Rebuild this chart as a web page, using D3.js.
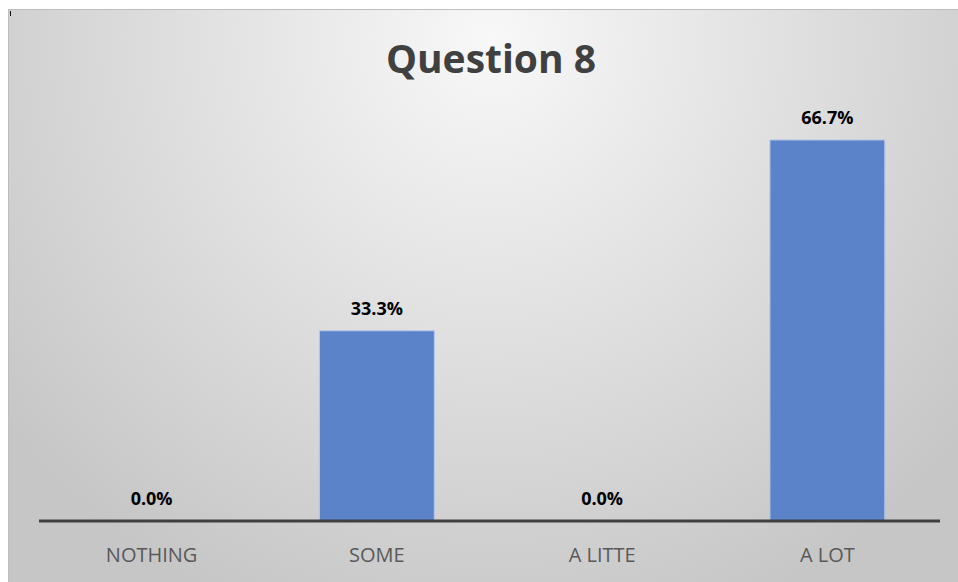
<!DOCTYPE html>
<html>
<head>
<meta charset="utf-8">
<script src="https://cdn.jsdelivr.net/npm/d3@7"></script>
<style>
  html, body { margin: 0; padding: 0; background: #ffffff; }
  svg { display: block; }
</style>
</head>
<body>
<svg id="chart" width="958" height="582"></svg>
<script>
// Survey answers for question 8
const categories = ["NOTHING", "SOME", "A LITTE", "A LOT"];
const shares = [0.0, 0.333, 0.0, 0.667];
const valueLabels = ["0.0%", "33.3%", "0.0%", "66.7%"];
const chartTitle = "Question 8";

const W = 958, H = 582;
const svg = d3.select("#chart");
const font = "'Open Sans', Lato, sans-serif";

// Radial backdrop of the chart area
const defs = svg.append("defs");
const grad = defs.append("radialGradient")
  .attr("id", "bg")
  .attr("gradientUnits", "userSpaceOnUse")
  .attr("cx", 490).attr("cy", 40).attr("r", 620);
grad.append("stop").attr("offset", "0%").attr("stop-color", "#f8f8f8");
grad.append("stop").attr("offset", "100%").attr("stop-color", "#c6c6c6");

svg.append("rect")
  .attr("x", 8).attr("y", 9)
  .attr("width", W - 8).attr("height", H - 9)
  .attr("fill", "url(#bg)");
svg.append("line")
  .attr("x1", 8).attr("x2", W).attr("y1", 9.5).attr("y2", 9.5)
  .attr("stroke", "#bdbdbd");
svg.append("line")
  .attr("x1", 8.5).attr("x2", 8.5).attr("y1", 9).attr("y2", H)
  .attr("stroke", "#bdbdbd");
svg.append("line")
  .attr("x1", 10.5).attr("x2", 10.5).attr("y1", 11).attr("y2", 16)
  .attr("stroke", "#111");

const plot = { left: 39, right: 940, top: 64, bottom: 521 };

const x = d3.scaleBand()
  .domain(categories)
  .range([plot.left, plot.right])
  .paddingInner(0.49)
  .paddingOuter(0.245);

const y = d3.scaleLinear()
  .domain([0, 0.8])
  .range([plot.bottom, plot.top]);

const data = categories.map((c, i) => ({ cat: c, v: shares[i], label: valueLabels[i] }));

// Bars
svg.append("g").selectAll("rect")
  .data(data)
  .join("rect")
  .attr("x", d => x(d.cat))
  .attr("y", d => y(d.v))
  .attr("width", x.bandwidth())
  .attr("height", d => y(0) - y(d.v))
  .attr("fill", "#5b83c9")
  .attr("stroke", "#b4c7e9")
  .attr("stroke-width", 1);

// Category axis
const xAxis = svg.append("g")
  .attr("transform", `translate(0,${plot.bottom})`)
  .call(d3.axisBottom(x).tickSize(0).tickPadding(0));
xAxis.select(".domain")
  .attr("d", `M${plot.left},0H${plot.right}`)
  .attr("stroke", "#404040")
  .attr("stroke-width", 3);
xAxis.selectAll(".tick text")
  .attr("y", 41)
  .attr("dy", 0)
  .attr("fill", "#595959")
  .style("font-family", font)
  .style("font-size", "20px");

// Value labels
svg.append("g").selectAll("text")
  .data(data)
  .join("text")
  .attr("x", d => x(d.cat) + x.bandwidth() / 2)
  .attr("y", d => y(d.v) - 16)
  .attr("text-anchor", "middle")
  .attr("fill", "#000")
  .style("font-family", font)
  .style("font-weight", "bold")
  .style("font-size", "18px")
  .text(d => d.label);

// Title
svg.append("text")
  .attr("x", 491)
  .attr("y", 73)
  .attr("text-anchor", "middle")
  .attr("fill", "#404040")
  .style("font-family", font)
  .style("font-weight", "bold")
  .style("font-size", "39px")
  .text(chartTitle);
</script>
</body>
</html>
